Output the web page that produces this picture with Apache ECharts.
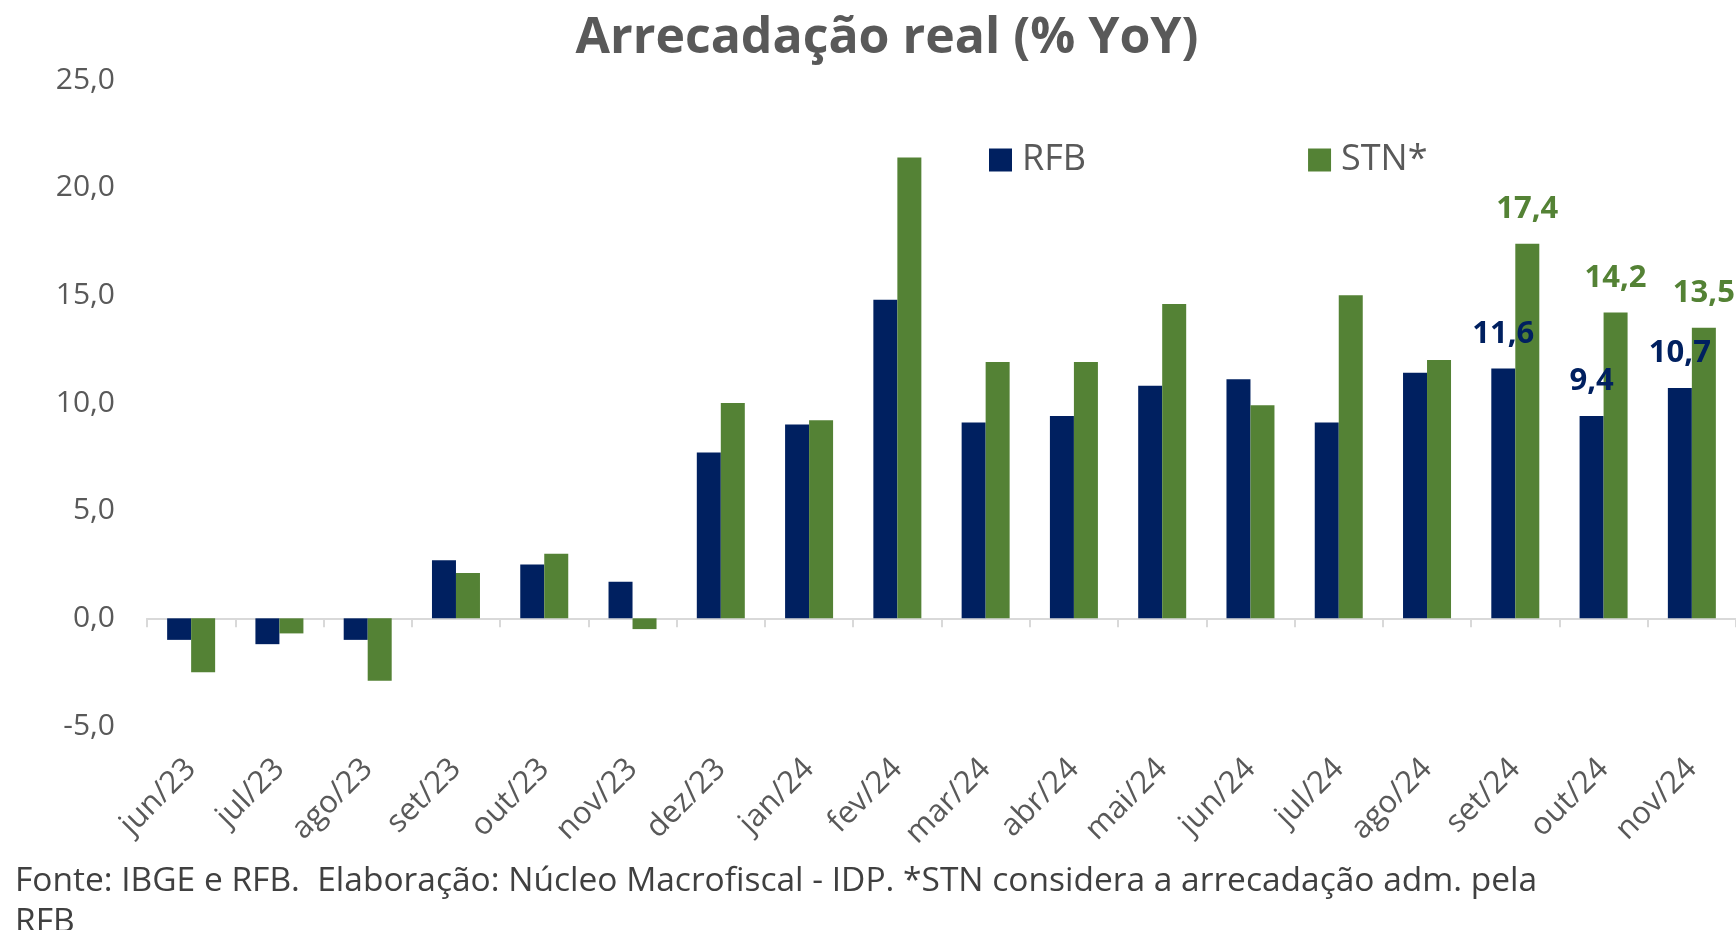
<!DOCTYPE html>
<html>
<head>
<meta charset="utf-8">
<title>Arrecadação real (% YoY)</title>
<script src="https://cdn.jsdelivr.net/npm/echarts@6/dist/echarts.min.js"></script>
<style>
  html, body { margin: 0; padding: 0; background: #fff; overflow: hidden; }
  #chart { width: 1736px; height: 930px; }
</style>
</head>
<body>
<div id="chart"></div>
<script>
// categorias (meses)
const months = ['jun/23', 'jul/23', 'ago/23', 'set/23', 'out/23', 'nov/23', 'dez/23', 'jan/24', 'fev/24',
  'mar/24', 'abr/24', 'mai/24', 'jun/24', 'jul/24', 'ago/24', 'set/24', 'out/24', 'nov/24']
// séries (% YoY)
const rfbValues = [-1.0, -1.2, -1.0, 2.7, 2.5, 1.7, 7.7, 9.0, 14.8, 9.1, 9.4, 10.8, 11.1, 9.1, 11.4, 11.6, 9.4, 10.7]
const stnValues = [-2.5, -0.7, -2.9, 2.1, 3.0, -0.5, 10.0, 9.2, 21.4, 11.9, 11.9, 14.6, 9.9, 15.0, 12.0, 17.4, 14.2, 13.5]
// meses com rótulo de valor
const labeledMonths = ['set/24', 'out/24', 'nov/24']
// eixo Y
const yTicks = [-5, 0, 5, 10, 15, 20, 25]

const fmt = v => v.toFixed(1).replace('.', ',')
const FONT = '"Open Sans", "Noto Sans", sans-serif'
const GREY = '#595959'

const toData = vals => vals.map((v, i) => ({
  value: v,
  label: {show: labeledMonths.includes(months[i])}
}))

const chart = echarts.init(document.getElementById('chart'))

chart.setOption({
  backgroundColor: '#ffffff',
  animation: false,
  textStyle: {fontFamily: FONT},
  title: [{
    text: 'Arrecadação real (% YoY)',
    left: 887,
    textAlign: 'center',
    top: 14,
    padding: 0,
    textStyle: {fontFamily: FONT, fontSize: 50, fontWeight: 'bold', color: GREY}
  }, {
    text: 'Fonte: IBGE e RFB.  Elaboração: Núcleo Macrofiscal - IDP. *STN considera a arrecadação adm. pela\nRFB',
    left: 15,
    top: 861,
    padding: 0,
    textStyle: {fontFamily: FONT, fontSize: 33.5, fontWeight: 'normal', color: '#404040', lineHeight: 41}
  }],
  legend: {
    left: 984,
    top: 137,
    itemWidth: 23,
    itemHeight: 23,
    itemGap: 222,
    icon: 'rect',
    textStyle: {fontFamily: FONT, fontSize: 36, color: GREY, padding: [0, 0, 0, 5]},
    data: ['RFB', 'STN*']
  },
  grid: {left: 147, right: -3, top: 80, bottom: 204, containLabel: false},
  xAxis: [{
    type: 'category',
    data: months,
    axisLine: {onZero: true, lineStyle: {color: '#d9d9d9', width: 2}},
    axisTick: {show: true, length: 9, lineStyle: {color: '#d9d9d9', width: 2}},
    axisLabel: {show: false}
  }, {
    type: 'category',
    data: months,
    position: 'bottom',
    axisLine: {show: false, onZero: false},
    axisTick: {show: false},
    axisLabel: {
      show: true,
      rotate: 45,
      margin: 38,
      interval: 0,
      fontFamily: FONT,
      fontSize: 31,
      color: GREY
    }
  }],
  yAxis: {
    type: 'value',
    min: yTicks[0],
    max: yTicks[yTicks.length - 1],
    interval: 5,
    axisLine: {show: false},
    axisTick: {show: false},
    splitLine: {show: false},
    axisLabel: {
      margin: 32,
      fontFamily: FONT,
      fontSize: 30,
      color: GREY,
      formatter: v => fmt(v)
    }
  },
  series: [{
    name: 'RFB',
    type: 'bar',
    xAxisIndex: 0,
    barWidth: 24,
    barGap: '0%',
    itemStyle: {color: '#002060'},
    label: {
      position: 'top',
      distance: 19,
      fontFamily: FONT,
      fontSize: 31,
      fontWeight: 'bold',
      color: '#002060',
      formatter: p => fmt(p.value)
    },
    data: toData(rfbValues)
  }, {
    name: 'STN*',
    type: 'bar',
    xAxisIndex: 0,
    barWidth: 24,
    barGap: '0%',
    itemStyle: {color: '#548235'},
    label: {
      position: 'top',
      distance: 19,
      fontFamily: FONT,
      fontSize: 31,
      fontWeight: 'bold',
      color: '#548235',
      formatter: p => fmt(p.value)
    },
    data: toData(stnValues)
  }]
})
</script>
</body>
</html>
